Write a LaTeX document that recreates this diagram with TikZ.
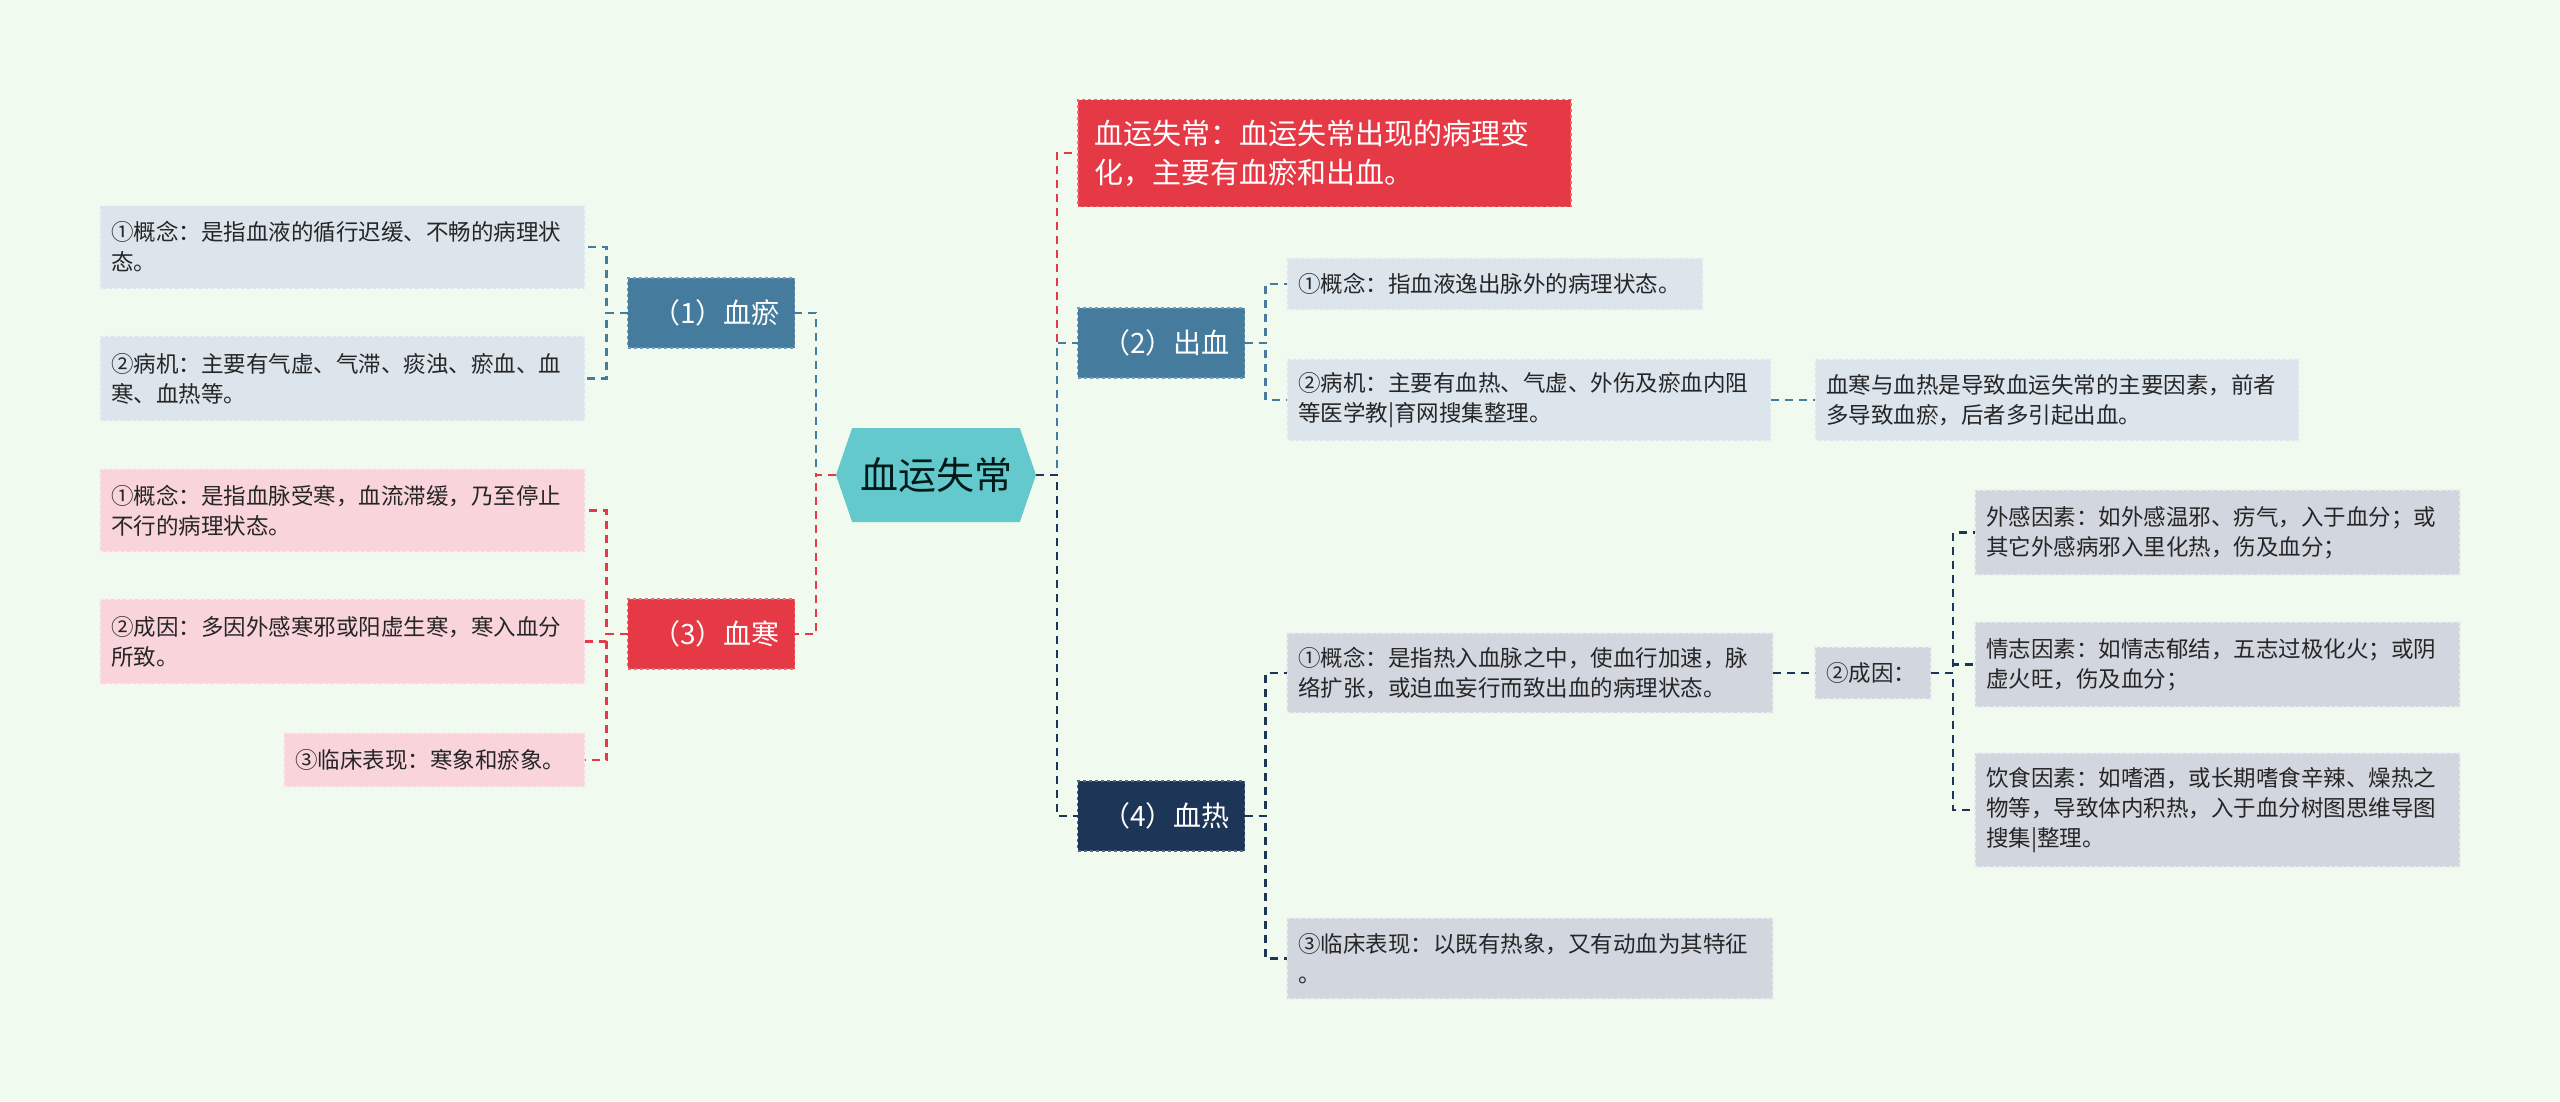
\documentclass[tikz,border=0pt]{standalone}
\usepackage{fontspec}
\setmainfont{Noto Sans CJK SC}
\usepackage{xcolor}
\usepackage{tikz}
\usetikzlibrary{positioning,shapes.symbols}

\definecolor{bgmint}{HTML}{F1FAEE}
\definecolor{rootteal}{HTML}{63C9CC}
\definecolor{steel}{HTML}{457B9D}
\definecolor{scarlet}{HTML}{E63946}
\definecolor{navy}{HTML}{1D3557}
\definecolor{leafblue}{HTML}{DCE5EC}
\definecolor{leafpink}{HTML}{F9D5DB}
\definecolor{leafgrey}{HTML}{D2D7DF}

\begin{document}
\begin{tikzpicture}[x=1pt, y=-1pt,
    every node/.style={inner sep=0pt, outer sep=0pt},
    branch/.style={fill=#1, draw=white!25!#1, dashed, line width=1.2pt,
                   text=white, minimum width=167, minimum height=70,
                   font=\fontsize{28}{34}\selectfont},
    leaf/.style={fill=#1, draw=white!55!#1, dashed, line width=1.2pt,
                 align=left, inner xsep=11pt, text=black!85,
                 font=\fontsize{22.5}{30}\selectfont},
    link/.style={draw=#1, line width=2.7pt, dash pattern=on 8pt off 6pt}]

  \fill[bgmint] (0,0) rectangle (2560,1101);
  \useasboundingbox (0,0) rectangle (2560,1101);

  \node[shape=signal, signal to=east and west, signal pointer angle=142,
        fill=rootteal, minimum width=200, minimum height=94,
        text=black!80!teal, font=\fontsize{38}{44}\selectfont] (root)
      at (936,475) {血运失常};

  % left side
  \node[branch=steel] (stasis) at (711,313) {\hspace{10pt}（1）血瘀};
  \node[branch=scarlet] (cold) at (711,634) {\hspace{10pt}（3）血寒};

  \node[leaf=leafblue, text width=463, minimum height=83] (stasisA)
      at (342.5,247) {①概念：是指血液的循行迟缓、不畅的病理状\\态。};
  \node[leaf=leafblue, text width=463, minimum height=85] (stasisB)
      at (342.5,378.5) {②病机：主要有气虚、气滞、痰浊、瘀血、血\\寒、血热等。};

  \node[leaf=leafpink, text width=463, minimum height=83] (coldA)
      at (342.5,510.5) {①概念：是指血脉受寒，血流滞缓，乃至停止\\不行的病理状态。};
  \node[leaf=leafpink, text width=463, minimum height=85] (coldB)
      at (342.5,641.5) {②成因：多因外感寒邪或阳虚生寒，寒入血分\\所致。};
  \node[leaf=leafpink, text width=279, minimum height=54] (coldC)
      at (434.5,760) {③临床表现：寒象和瘀象。};

  % right side
  \node[fill=scarlet, draw=white!25!scarlet, dashed, line width=1.2pt,
        text=white, align=left, text width=461, inner xsep=16pt,
        minimum height=107, font=\fontsize{29}{39}\selectfont] (summary)
      at (1324.5,153) {血运失常：血运失常出现的病理变\\化，主要有血瘀和出血。};
  \node[branch=steel] (bleed) at (1161,343) {\hspace{10pt}（2）出血};
  \node[branch=navy] (heat) at (1161,816) {\hspace{10pt}（4）血热};

  \node[leaf=leafblue, text width=394, minimum height=52] (bleedA)
      at (1495,284) {①概念：指血液逸出脉外的病理状态。};
  \node[leaf=leafblue, text width=462, minimum height=82] (bleedB)
      at (1529,400) {②病机：主要有血热、气虚、外伤及瘀血内阻\\等医学教|育网搜集整理。};
  \node[leaf=leafblue, text width=462, minimum height=82] (bleedNote)
      at (2057,400) {血寒与血热是导致血运失常的主要因素，前者\\多导致血瘀，后者多引起出血。};

  \node[leaf=leafgrey, text width=464, minimum height=80] (heatA)
      at (1530,673) {①概念：是指热入血脉之中，使血行加速，脉\\络扩张，或迫血妄行而致出血的病理状态。};
  \node[leaf=leafgrey, text width=94, minimum height=52] (heatB)
      at (1873,673) {②成因：};
  \node[leaf=leafgrey, text width=464, minimum height=81] (heatC)
      at (1530,958.5) {③临床表现：以既有热象，又有动血为其特征\\。};

  \node[leaf=leafgrey, text width=463, minimum height=85] (causeA)
      at (2217.5,532.5) {外感因素：如外感温邪、疠气，入于血分；或\\其它外感病邪入里化热，伤及血分；};
  \node[leaf=leafgrey, text width=463, minimum height=85] (causeB)
      at (2217.5,664.5) {情志因素：如情志郁结，五志过极化火；或阴\\虚火旺，伤及血分；};
  \node[leaf=leafgrey, text width=463, minimum height=114] (causeC)
      at (2217.5,810) {饮食因素：如嗜酒，或长期嗜食辛辣、燥热之\\物等，导致体内积热，入于血分树图思维导图\\搜集|整理。};

  \draw[link=steel] (root.west) -- ++(-20,0) |- (stasis.east);
  \draw[link=scarlet] (root.west) -- ++(-20,0) |- (cold.east);
  \draw[link=steel] (stasis.west) -- ++(-21,0) |- (stasisA.east);
  \draw[link=steel] (stasis.west) -- ++(-21,0) |- (stasisB.east);
  \draw[link=scarlet] (cold.west) -- ++(-21,0) |- (coldA.east);
  \draw[link=scarlet] (cold.west) -- ++(-21,0) |- (coldB.east);
  \draw[link=scarlet] (cold.west) -- ++(-21,0) |- (coldC.east);

  \draw[link=scarlet] (root.east) -- ++(21,0) |- (summary.west);
  \draw[link=steel] (root.east) -- ++(21,0) |- (bleed.west);
  \draw[link=navy] (root.east) -- ++(21,0) |- (heat.west);
  \draw[link=steel] (bleed.east) -- ++(21,0) |- (bleedA.west);
  \draw[link=steel] (bleed.east) -- ++(21,0) |- (bleedB.west);
  \draw[link=steel] (bleedB.east) -- (bleedNote.west);
  \draw[link=navy] (heat.east) -- ++(21,0) |- (heatA.west);
  \draw[link=navy] (heat.east) -- ++(21,0) |- (heatC.west);
  \draw[link=navy] (heatA.east) -- (heatB.west);
  \draw[link=navy] (heatB.east) -- ++(22,0) |- (causeA.west);
  \draw[link=navy] (heatB.east) -- ++(22,0) |- (causeB.west);
  \draw[link=navy] (heatB.east) -- ++(22,0) |- (causeC.west);
\end{tikzpicture}
\end{document}
